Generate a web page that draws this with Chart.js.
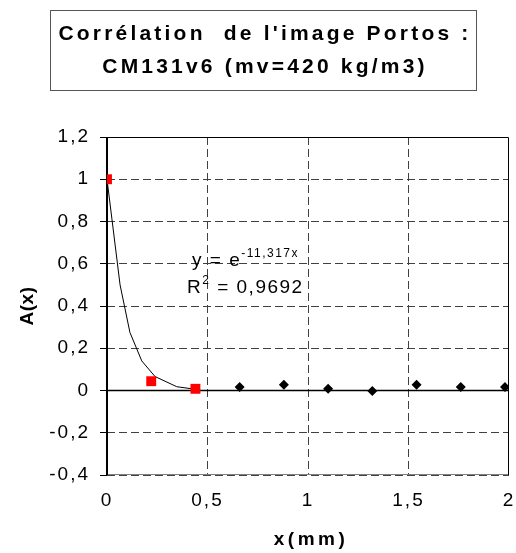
<!DOCTYPE html>
<html>
<head>
<meta charset="utf-8">
<script src="https://cdn.jsdelivr.net/npm/chart.js@4"></script>
<style>
  html, body { margin: 0; padding: 0; background: #fff; }
  #wrap { width: 516px; height: 553px; }
</style>
</head>
<body>
<div id="wrap"><canvas id="chart" width="516" height="553"></canvas></div>
<script>
// values
var titleLines = ['Corrélation  de l\'image Portos :', 'CM131v6 (mv=420 kg/m3)'];
var xTitle = 'x(mm)';
var yTitle = 'A(x)';
var fitX = [0, 0.22, 0.44];
var fitY = [1, 0.044, 0.008];
var restX = [0.66, 0.88, 1.10, 1.32, 1.54, 1.76, 1.98];
var restY = [0.016, 0.027, 0.008, -0.002, 0.027, 0.016, 0.016];
// trend line y = e^(-11,317x)
var trendX = [0, 0.065, 0.114, 0.173, 0.239, 0.347, 0.446];
var trendY = [1, 0.5, 0.275, 0.14, 0.066, 0.018, 0.005];
var eqText = 'y = e';
var eqExp = '-11,317x';
var r2Text = ' = 0,9692';

var FONT = '"Liberation Sans", Arial, sans-serif';

function pts(xs, ys) {
  return xs.map(function (x, i) { return { x: x, y: ys[i] }; });
}
function fmt(v) {
  return String(Math.round(v * 10) / 10).replace('.', ',');
}

// frame, axes, title box, equation, axis titles
var decor = {
  id: 'decor',
  beforeDraw: function (chart) { chart.ctx.letterSpacing = '2px'; },
  beforeDatasetsDraw: function (chart) {
    var c = chart.ctx, a = chart.chartArea;
    var y0 = chart.scales.y.getPixelForValue(0);
    c.save();
    c.letterSpacing = '0px';
    c.lineWidth = 1;
    c.strokeStyle = '#808080';
    c.beginPath(); c.moveTo(a.left, a.bottom - 0.5); c.lineTo(a.right, a.bottom - 0.5); c.stroke();
    c.strokeStyle = '#000';
    c.beginPath();
    c.moveTo(a.left - 7, a.top + 0.5); c.lineTo(a.right - 0.5, a.top + 0.5); c.lineTo(a.right - 0.5, a.bottom);
    c.stroke();
    c.lineWidth = 1.5;
    c.beginPath(); c.moveTo(a.left, y0); c.lineTo(a.right, y0); c.stroke();
    c.lineWidth = 2;
    c.beginPath(); c.moveTo(a.left, a.top); c.lineTo(a.left, a.bottom); c.stroke();
    c.restore();
  },
  afterDraw: function (chart) {
    var c = chart.ctx;
    c.save();
    // title box
    c.strokeStyle = '#555';
    c.lineWidth = 1;
    c.strokeRect(50.5, 10.5, 426, 80);
    c.fillStyle = '#000';
    c.font = 'bold 21px ' + FONT;
    c.letterSpacing = '3.2px';
    c.textAlign = 'center';
    c.textBaseline = 'middle';
    c.fillText(titleLines[0], 265, 34);
    c.fillText(titleLines[1], 265, 67);

    // axis titles
    c.font = 'bold 19px ' + FONT;
    c.letterSpacing = '3.5px';
    c.fillText(xTitle, 311, 540);
    c.save();
    c.translate(28, 306);
    c.rotate(-Math.PI / 2);
    c.letterSpacing = '0.5px';
    c.fillText(yTitle, 0, 0);
    c.restore();

    // equation
    c.textAlign = 'left';
    c.letterSpacing = '1.5px';
    c.font = '19px ' + FONT;
    var x = 192, y = 261;
    c.fillText(eqText, x, y);
    x += c.measureText(eqText).width;
    c.font = '12px ' + FONT;
    c.fillText(eqExp, x, y - 7);
    x = 187; y = 288;
    c.font = '19px ' + FONT;
    c.fillText('R', x, y);
    x += c.measureText('R').width;
    c.font = '12px ' + FONT;
    c.fillText('2', x, y - 7);
    x += c.measureText('2').width;
    c.font = '19px ' + FONT;
    c.fillText(r2Text, x, y);
    c.restore();
    c.letterSpacing = '0px';
  }
};

var gridDash = [8, 4];

new Chart(document.getElementById('chart'), {
  type: 'scatter',
  data: {
    datasets: [
      {
        label: 'trend',
        data: pts(trendX, trendY),
        showLine: true,
        borderColor: '#000',
        borderWidth: 1,
        pointRadius: 0,
        tension: 0,
        order: 3
      },
      {
        label: 'fit',
        data: pts(fitX, fitY),
        pointStyle: 'rect',
        pointRadius: 7,
        backgroundColor: '#ff0000',
        borderWidth: 0,
        order: 1
      },
      {
        label: 'rest',
        data: pts(restX, restY),
        pointStyle: 'rectRot',
        pointRadius: 5,
        backgroundColor: '#000',
        borderWidth: 0,
        order: 2
      }
    ]
  },
  options: {
    responsive: false,
    animation: false,
    events: [],
    layout: { padding: { left: 0, right: 5, top: 137, bottom: 0 } },
    plugins: { legend: { display: false }, tooltip: { enabled: false } },
    scales: {
      x: {
        type: 'linear', min: 0, max: 2,
        afterFit: function (s) { s.height = 78; s.paddingLeft = 0; s.paddingRight = 0; },
        ticks: {
          stepSize: 0.5, color: '#000', padding: 14,
          font: { family: FONT, size: 19 },
          callback: function (v) { return fmt(v); }
        },
        grid: {
          drawTicks: false,
          borderDash: gridDash,
          lineWidth: 1,
          color: function (ctx) {
            var v = ctx.tick ? ctx.tick.value : null;
            return (v === 0 || v === 2) ? 'rgba(0,0,0,0)' : '#404040';
          }
        },
        border: { display: false, dash: gridDash }
      },
      y: {
        type: 'linear', min: -0.4, max: 1.2,
        afterFit: function (s) { s.width = 107; },
        ticks: {
          stepSize: 0.2, color: '#000', padding: 10,
          font: { family: FONT, size: 19 },
          callback: function (v) { return fmt(v); }
        },
        grid: {
          tickLength: 7,
          tickColor: '#000',
          tickBorderDash: [],
          lineWidth: 1,
          color: function (ctx) {
            var v = ctx.tick ? Math.round(ctx.tick.value * 10) / 10 : null;
            return (v === 0 || v === 1.2) ? 'rgba(0,0,0,0)' : '#404040';
          }
        },
        border: { display: false, dash: gridDash }
      }
    }
  },
  plugins: [decor]
});
</script>
</body>
</html>
